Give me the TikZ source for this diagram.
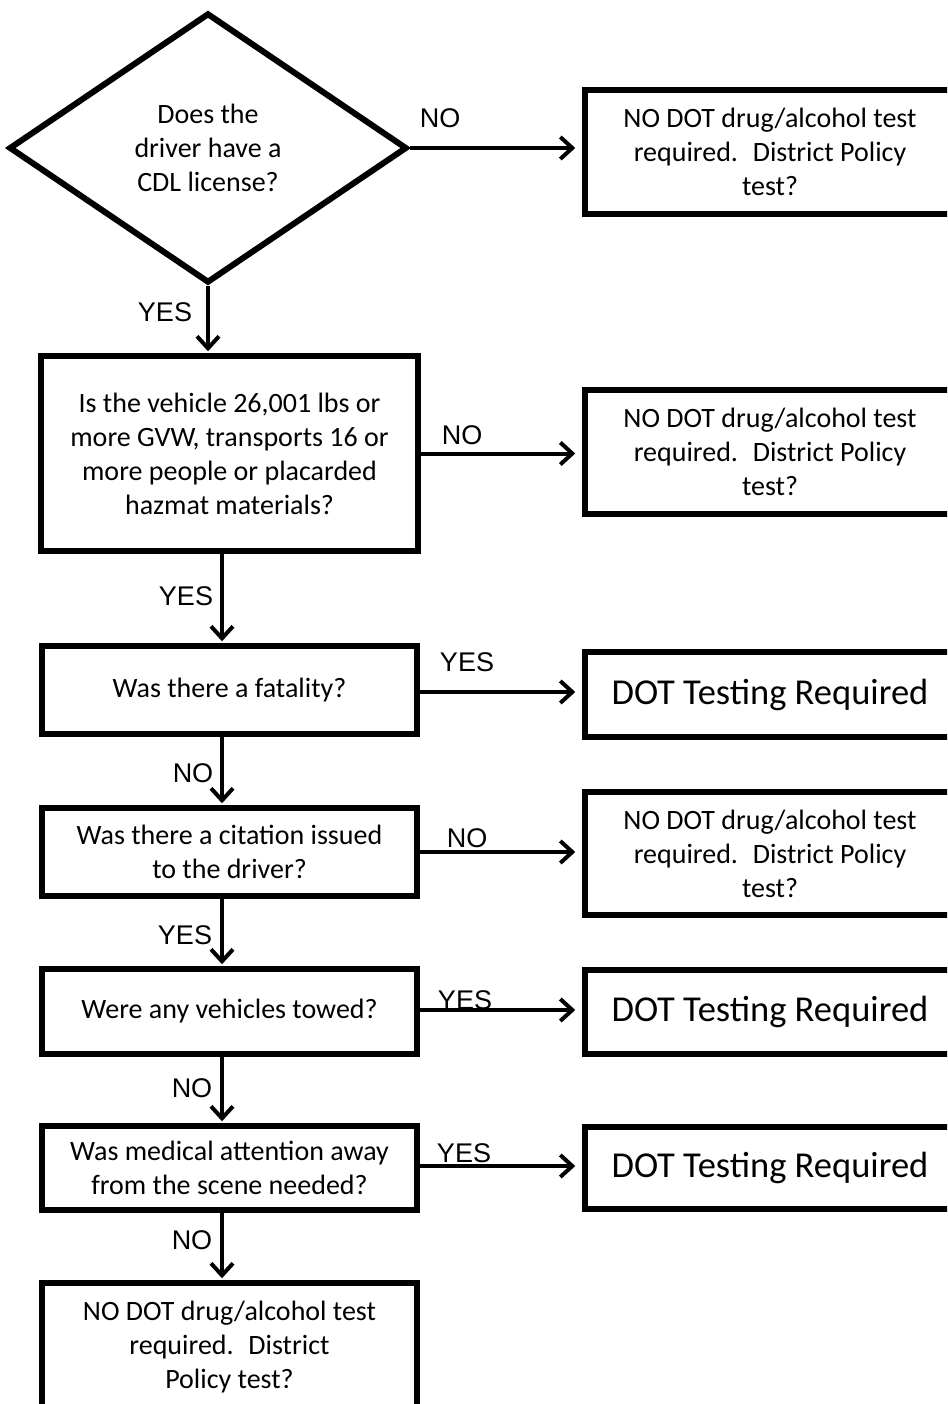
\documentclass[tikz,border=0pt]{standalone}
\usepackage{fontspec}
\setmainfont{Carlito}
\newfontfamily\lblfont{Liberation Sans}
\usetikzlibrary{arrows.meta,shapes.geometric}
\begin{document}
\begin{tikzpicture}[x=1pt,y=-1pt,
  box/.style={draw,line width=5.5pt,inner sep=0pt,align=center,font=\fontsize{28}{34}\selectfont},
  bigbox/.style={box,font=\fontsize{36.5}{42}\selectfont},
  dia/.style={draw,diamond,line width=6pt,inner sep=0pt,align=center,font=\fontsize{28}{34}\selectfont},
  arr/.style={line width=4pt,-{Straight Barb[length=12pt,width=22pt]}},
  lbl/.style={font=\lblfont\fontsize{27}{30}\selectfont,inner sep=0pt}]
\useasboundingbox (0,0) rectangle (947,1404);
\fill[white] (0,0) rectangle (947,1404);
\clip (0,0) rectangle (947,1404);

% left column
\node[dia,minimum width=398pt,minimum height=270pt] (d1) at (208,148)
  {Does the\\driver have a\\CDL license?};
\node[box,minimum width=377pt,minimum height=195pt] (b2) at (229.5,453.5)
  {Is the vehicle 26,001 lbs or\\more GVW, transports 16 or\\more people or placarded\\hazmat materials?};
\node[box,minimum width=375pt,minimum height=88pt] (b3) at (229.5,690)
  {Was there a fatality?};
\node[box,minimum width=375pt,minimum height=88pt] (b4) at (229.5,852)
  {Was there a citation issued\\to the driver?};
\node[box,minimum width=375pt,minimum height=85pt] (b5) at (229.5,1011.5)
  {Were any vehicles towed?};
\node[box,minimum width=375pt,minimum height=84pt] (b6) at (229.5,1168)
  {Was medical attention away\\from the scene needed?};
\node[box,minimum width=375pt,minimum height=128pt] (b7) at (229.5,1347)
  {NO DOT drug/alcohol test\\required.~ District\\Policy test?};

% right column
\node[box,minimum width=370pt,minimum height=124pt] (r1) at (770,152)
  {NO DOT drug/alcohol test\\required.~ District Policy\\test?};
\node[box,minimum width=370pt,minimum height=124pt] (r2) at (770,452)
  {NO DOT drug/alcohol test\\required.~ District Policy\\test?};
\node[bigbox,minimum width=370pt,minimum height=85pt] (r3) at (770,694.5)
  {DOT Testing Required};
\node[box,minimum width=370pt,minimum height=123pt] (r4) at (770,853.5)
  {NO DOT drug/alcohol test\\required.~ District Policy\\test?};
\node[bigbox,minimum width=370pt,minimum height=84pt] (r5) at (770,1012)
  {DOT Testing Required};
\node[bigbox,minimum width=370pt,minimum height=82pt] (r6) at (770,1168)
  {DOT Testing Required};

% vertical connectors
\draw[arr,shorten >=2pt] (d1.south) -- (d1.south |- b2.north);
\draw[arr,shorten >=2pt] ([xshift=-7.5pt]b2.south) -- ([xshift=-7.5pt]b3.north);
\draw[arr,shorten >=2pt] ([xshift=-7.5pt]b3.south) -- ([xshift=-7.5pt]b4.north);
\draw[arr,shorten >=2pt] ([xshift=-7.5pt]b4.south) -- ([xshift=-7.5pt]b5.north);
\draw[arr,shorten >=2pt] ([xshift=-7.5pt]b5.south) -- ([xshift=-7.5pt]b6.north);
\draw[arr,shorten >=2pt] ([xshift=-7.5pt]b6.south) -- ([xshift=-7.5pt]b7.north);

% horizontal connectors
\draw[arr,shorten >=7pt] (d1.east) -- (d1.east -| r1.west);
\draw[arr,shorten >=7pt] (b2.east) -- (b2.east -| r2.west);
\draw[arr,shorten >=7pt] ([yshift=-2pt]b3.east) -- ([yshift=-2pt]b3.east -| r3.west);
\draw[arr,shorten >=7pt] (b4.east) -- (b4.east -| r4.west);
\draw[arr,shorten >=7pt] ([yshift=1.5pt]b5.east) -- ([yshift=1.5pt]b5.east -| r5.west);
\draw[arr,shorten >=7pt] ([yshift=2pt]b6.east) -- ([yshift=2pt]b6.east -| r6.west);

% labels
\node[lbl] (l1) at (440,118) {NO};
\node[lbl] (l2) at (165,312) {YES};
\node[lbl] (l3) at (462,435) {NO};
\node[lbl] (l4) at (186,596) {YES};
\node[lbl] (l5) at (467,662) {YES};
\node[lbl] (l6) at (193,773) {NO};
\node[lbl] (l7) at (467,838) {NO};
\node[lbl] (l8) at (185,935) {YES};
\node[lbl] (l9) at (465,1000) {YES};
\node[lbl] (l10) at (192,1088) {NO};
\node[lbl] (l11) at (464,1153) {YES};
\node[lbl] (l12) at (192,1240) {NO};
\end{tikzpicture}
\end{document}
